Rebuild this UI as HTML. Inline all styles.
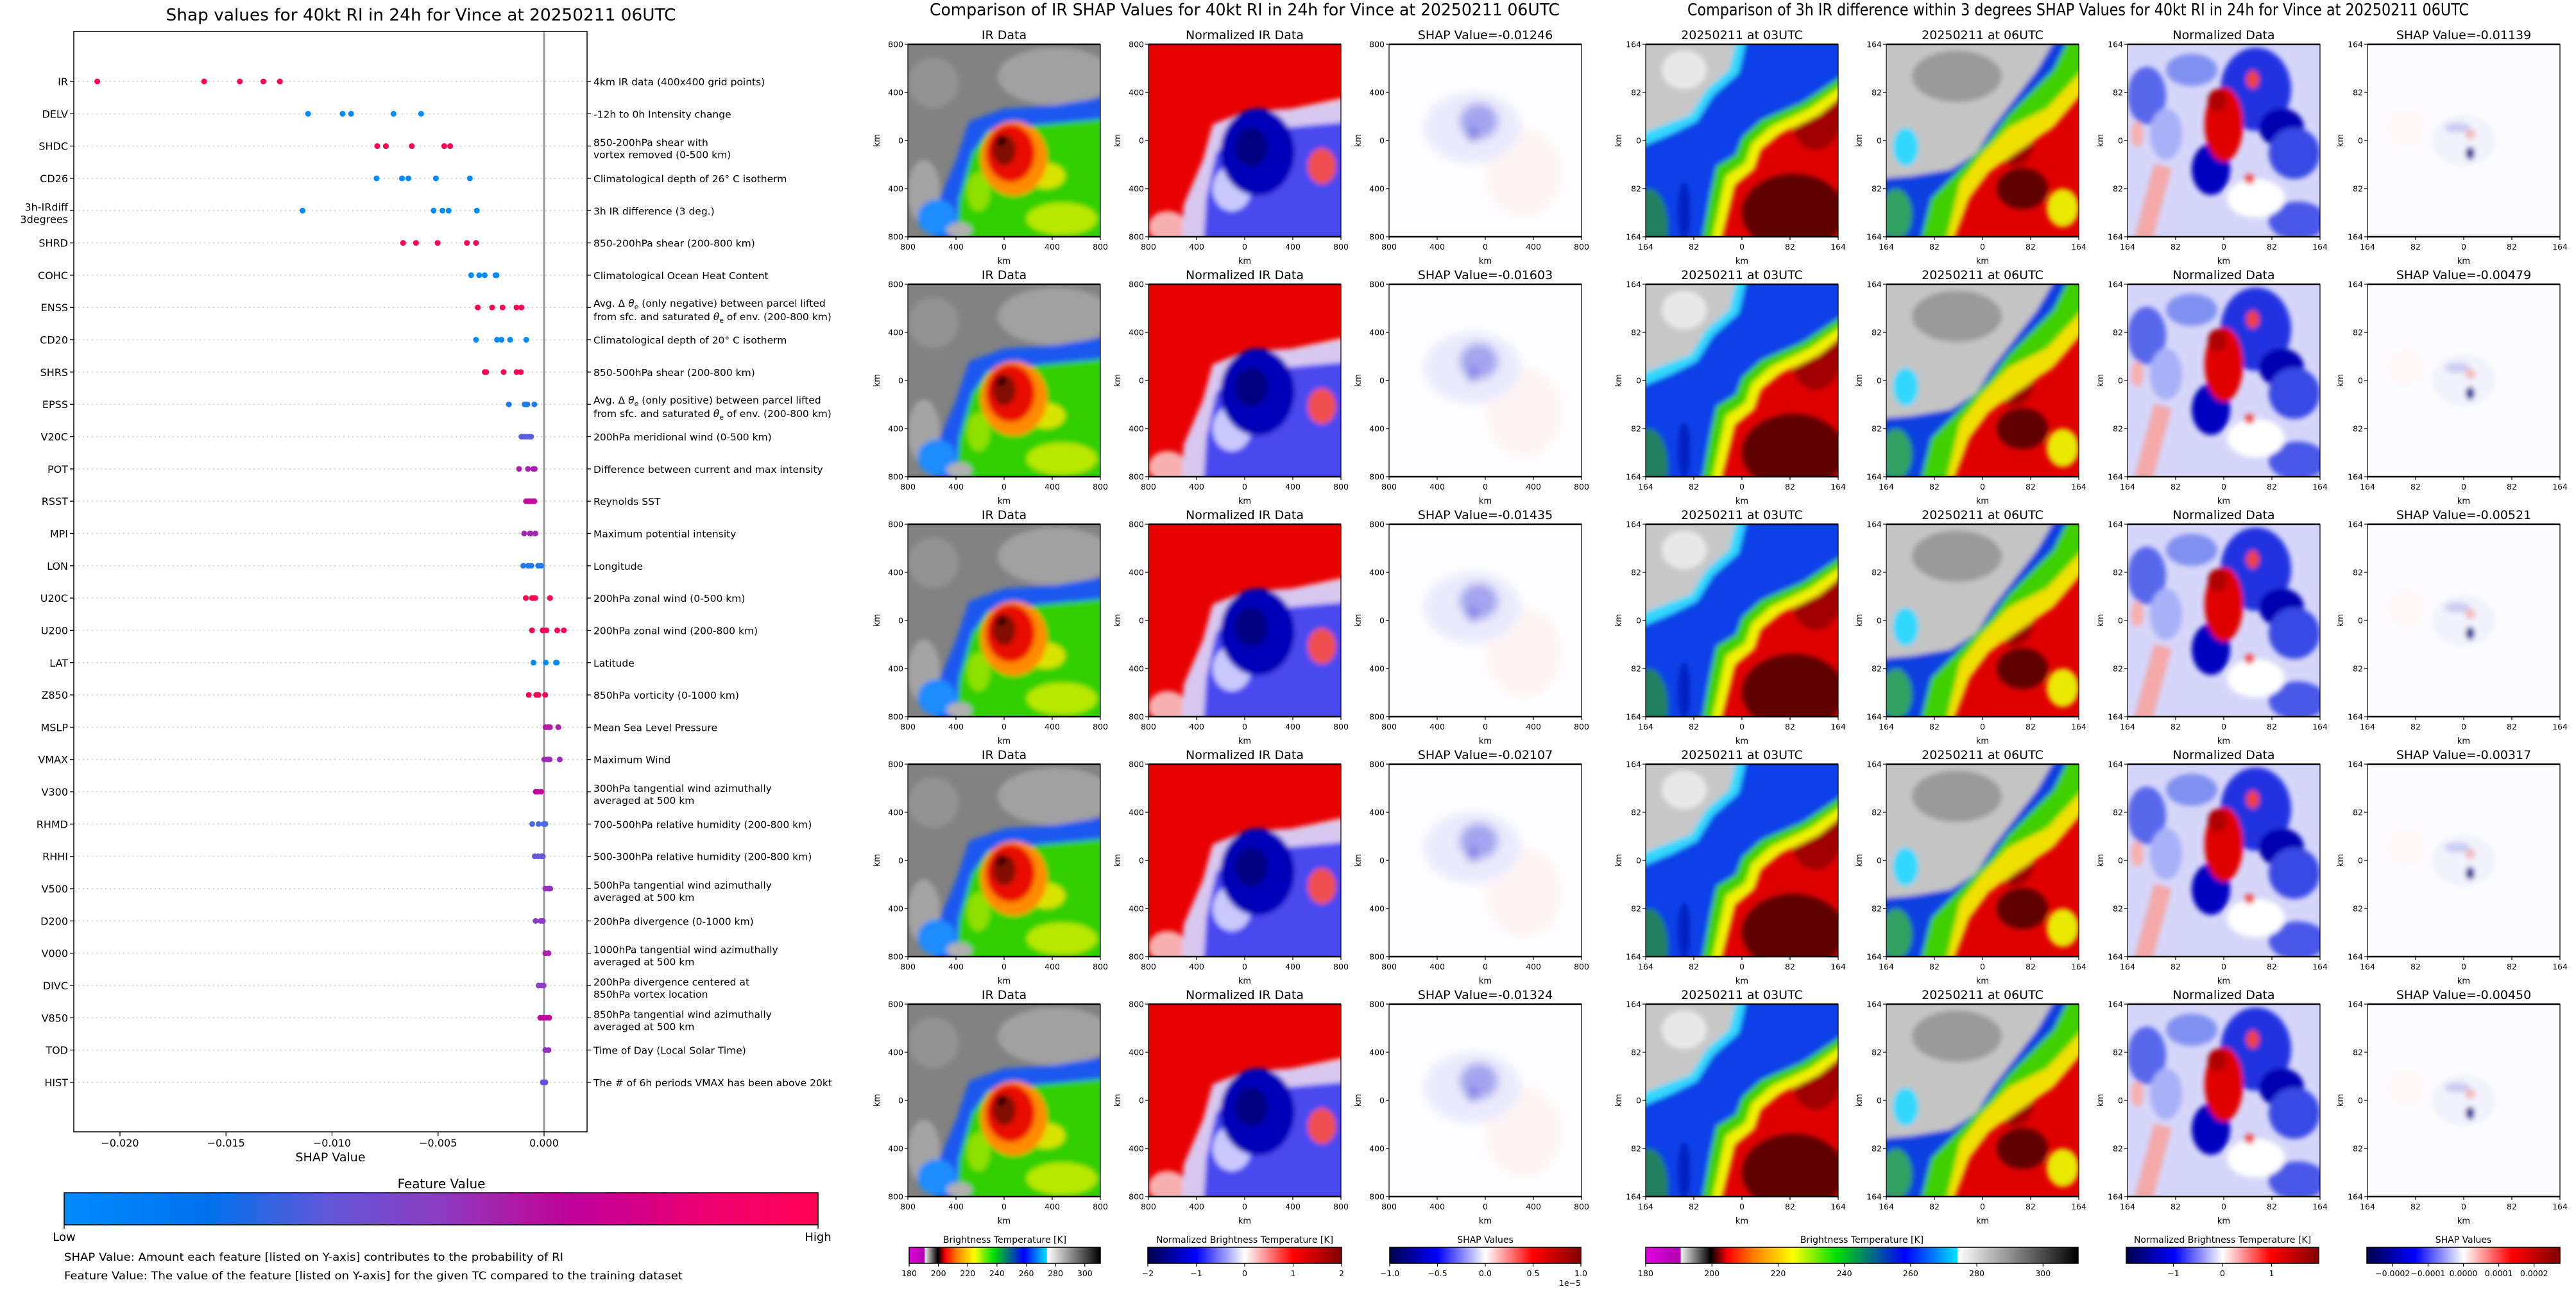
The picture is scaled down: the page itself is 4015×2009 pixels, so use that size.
<!DOCTYPE html>
<html><head><meta charset="utf-8"><style>
html,body{margin:0;padding:0;background:#fff;}
svg{display:block;font-family:"DejaVu Sans","Liberation Sans",sans-serif;}
</style></head><body>
<svg id="root" xmlns="http://www.w3.org/2000/svg" width="4015" height="2009" viewBox="0 0 4015 2009">
<defs>
<filter id="bl" x="-20%" y="-20%" width="140%" height="140%"><feGaussianBlur stdDeviation="4" edgeMode="duplicate"/></filter>
<filter id="bl2" x="-20%" y="-20%" width="140%" height="140%"><feGaussianBlur stdDeviation="7"/></filter>
<linearGradient id="gShap" x1="0" x2="1" y1="0" y2="0">
<stop offset="0" stop-color="#008bfb"/><stop offset="0.19" stop-color="#0071ea"/><stop offset="0.35" stop-color="#6257d8"/><stop offset="0.5" stop-color="#8c3cc0"/><stop offset="0.62" stop-color="#b4129e"/><stop offset="0.68" stop-color="#c0009a"/><stop offset="0.85" stop-color="#ec0070"/><stop offset="1" stop-color="#ff0052"/>
</linearGradient>
<linearGradient id="gIR" x1="0" x2="1" y1="0" y2="0">
<stop offset="0" stop-color="#e000e0"/><stop offset="0.08" stop-color="#b000b0"/><stop offset="0.082" stop-color="#f0f0f0"/><stop offset="0.15" stop-color="#000"/><stop offset="0.19" stop-color="#ff0000"/><stop offset="0.25" stop-color="#ff8000"/><stop offset="0.34" stop-color="#ffff00"/><stop offset="0.44" stop-color="#00e000"/><stop offset="0.6" stop-color="#0000ff"/><stop offset="0.72" stop-color="#00e0ff"/><stop offset="0.722" stop-color="#ffffff"/><stop offset="1" stop-color="#000"/>
</linearGradient>
<linearGradient id="gSeis" x1="0" x2="1" y1="0" y2="0">
<stop offset="0" stop-color="#00004c"/><stop offset="0.25" stop-color="#0000ff"/><stop offset="0.5" stop-color="#ffffff"/><stop offset="0.75" stop-color="#ff0000"/><stop offset="1" stop-color="#800000"/>
</linearGradient>

<symbol id="pIR" viewBox="0 0 300 300">
<rect width="300" height="300" fill="#828282"/>
<g filter="url(#bl)">
<ellipse cx="230" cy="50" rx="90" ry="45" fill="#a0a0a0"/>
<ellipse cx="40" cy="60" rx="40" ry="40" fill="#929292"/>
<path d="M130,120 L320,80 L320,100 L150,145Z" fill="#d4d4d4"/>
<ellipse cx="25" cy="230" rx="25" ry="50" fill="#a4a4a4"/>
<path d="M320,80 L320,320 L40,320 L45,250 L75,180 L95,120 L150,100 L230,95Z" fill="#1a58f0"/>
<path d="M320,115 L320,320 L75,320 L80,240 L100,170 L125,135 L210,125Z" fill="#30d000"/>
<ellipse cx="240" cy="272" rx="55" ry="25" fill="#b8e800"/>
<ellipse cx="110" cy="230" rx="18" ry="30" fill="#90e000"/>
<ellipse cx="215" cy="205" rx="30" ry="20" fill="#d8e400"/>
<ellipse cx="165" cy="178" rx="52" ry="58" fill="#ff8c00"/>
<ellipse cx="160" cy="170" rx="38" ry="45" fill="#e81000"/>
<ellipse cx="150" cy="165" rx="18" ry="24" fill="#801000"/>
<ellipse cx="145" cy="150" rx="8" ry="8" fill="#300000"/>
<ellipse cx="45" cy="270" rx="30" ry="28" fill="#1a8cff"/>
<ellipse cx="80" cy="290" rx="20" ry="12" fill="#b0b0b0"/>
</g>
</symbol>

<symbol id="pNorm" viewBox="0 0 300 300">
<rect width="300" height="300" fill="#e80000"/>
<g filter="url(#bl)">
<path d="M130,120 L320,80 L320,100 L150,145Z" fill="#f8d0d0"/>
<ellipse cx="30" cy="285" rx="30" ry="25" fill="#f6b0b0"/>
<path d="M320,85 L320,320 L50,320 L55,250 L85,180 L100,125 L150,105 L230,100Z" fill="#d8c8f0"/>
<path d="M320,120 L320,320 L85,320 L90,240 L105,170 L130,140 L210,130Z" fill="#4848f0"/>
<ellipse cx="270" cy="190" rx="22" ry="28" fill="#f05050"/>
<ellipse cx="130" cy="225" rx="30" ry="35" fill="#c8c8ff"/>
<ellipse cx="170" cy="168" rx="58" ry="68" fill="#0000b8"/>
<ellipse cx="160" cy="160" rx="25" ry="30" fill="#000080"/>
</g>
</symbol>

<symbol id="pShap" viewBox="0 0 300 300">
<rect width="300" height="300" fill="#fdfdff"/>
<g filter="url(#bl2)">
<ellipse cx="210" cy="200" rx="60" ry="70" fill="#fff4f4"/>
<ellipse cx="130" cy="130" rx="75" ry="55" fill="#eaeafc"/>
<ellipse cx="140" cy="120" rx="30" ry="28" fill="#a4a4f0"/>
<ellipse cx="130" cy="140" rx="8" ry="12" fill="#7878e2"/>
</g>
</symbol>

<symbol id="p03" viewBox="0 0 300 300">
<rect width="300" height="300" fill="#e00000"/>
<g filter="url(#bl)">
<ellipse cx="230" cy="262" rx="80" ry="60" fill="#600000"/>
<ellipse cx="265" cy="110" rx="40" ry="55" fill="#a00000"/>
<path d="M-20,-20 L320,-20 L320,70 L270,110 L210,140 L180,165 L170,195 L140,220 L130,260 L115,320 L-20,320Z" fill="#f0f000"/>
<path d="M-20,-20 L320,-20 L320,55 L255,100 L195,128 L165,155 L155,185 L125,205 L115,250 L100,320 L-20,320Z" fill="#40d000"/>
<path d="M-20,-20 L320,-20 L320,40 L245,90 L180,118 L150,145 L140,172 L110,190 L100,235 L85,320 L-20,320Z" fill="#1040e8"/>
<path d="M-20,-20 L160,-20 L145,45 L105,80 L80,120 L40,140 L-20,165Z" fill="#30d8ff"/>
<path d="M-20,-20 L145,-20 L130,40 L95,70 L70,110 L30,125 L-20,145Z" fill="#c8c8c8"/>
<ellipse cx="60" cy="40" rx="35" ry="30" fill="#e8e8e8"/>
<ellipse cx="5" cy="285" rx="30" ry="60" fill="#208060"/>
<ellipse cx="60" cy="260" rx="10" ry="45" fill="#0020c0"/>
</g>
</symbol>

<symbol id="p06" viewBox="0 0 300 300">
<rect width="300" height="300" fill="#e00000"/>
<g filter="url(#bl)">
<ellipse cx="212" cy="225" rx="40" ry="32" fill="#600000"/>
<ellipse cx="200" cy="150" rx="30" ry="40" fill="#a00000"/>
<ellipse cx="275" cy="255" rx="25" ry="30" fill="#e8e800"/>
<path d="M-20,-20 L320,-20 L320,60 L260,130 L200,170 L160,200 L130,240 L100,320 L-20,320Z" fill="#f0e000"/>
<path d="M-20,-20 L320,-20 L320,25 L250,100 L190,130 L150,170 L115,215 L90,320 L-20,320Z" fill="#40d000"/>
<path d="M-20,-20 L290,-20 L260,40 L220,80 L190,110 L160,150 L130,180 L110,200 L70,240 L50,320 L-20,320Z" fill="#1040e0"/>
<path d="M-20,-20 L270,-20 L235,40 L200,85 L165,130 L140,170 L100,195 L40,205 L-20,210Z" fill="#c4c4c4"/>
<ellipse cx="110" cy="50" rx="70" ry="40" fill="#9a9a9a"/>
<ellipse cx="30" cy="160" rx="20" ry="30" fill="#30d8ff"/>
<ellipse cx="15" cy="265" rx="25" ry="40" fill="#30a060"/>
</g>
</symbol>

<symbol id="pNormD" viewBox="0 0 300 300">
<rect width="300" height="300" fill="#d6d6fa"/>
<g filter="url(#bl)">
<ellipse cx="200" cy="70" rx="55" ry="65" fill="#2030e0"/>
<ellipse cx="240" cy="130" rx="35" ry="30" fill="#0000b0"/>
<ellipse cx="260" cy="170" rx="40" ry="40" fill="#3848e4"/>
<ellipse cx="130" cy="195" rx="30" ry="40" fill="#0000c0"/>
<ellipse cx="265" cy="275" rx="45" ry="30" fill="#4858e8"/>
<ellipse cx="30" cy="80" rx="30" ry="45" fill="#5868ea"/>
<ellipse cx="100" cy="40" rx="40" ry="25" fill="#8090f0"/>
<ellipse cx="200" cy="240" rx="45" ry="30" fill="#ffffff"/>
<ellipse cx="60" cy="140" rx="25" ry="40" fill="#a8b0f8"/>
<path d="M55,190 L20,320" stroke="#f4a8a8" stroke-width="28" fill="none"/>
<ellipse cx="150" cy="125" rx="30" ry="58" fill="#e00000"/>
<ellipse cx="140" cy="88" rx="15" ry="18" fill="#b00000"/>
<ellipse cx="195" cy="55" rx="10" ry="14" fill="#f04040"/>
<ellipse cx="190" cy="210" rx="8" ry="8" fill="#f05050"/>
<ellipse cx="15" cy="140" rx="10" ry="20" fill="#f8b0b0"/>
</g>
</symbol>

<symbol id="pShapD" viewBox="0 0 300 300">
<rect width="300" height="300" fill="#fcfcff"/>
<g filter="url(#bl)">
<ellipse cx="150" cy="150" rx="50" ry="40" fill="#f2f2fd"/>
<ellipse cx="140" cy="130" rx="20" ry="8" fill="#ccccf2"/>
<ellipse cx="160" cy="140" rx="8" ry="8" fill="#f2bcbc"/>
<ellipse cx="160" cy="170" rx="7" ry="10" fill="#303098"/>
<ellipse cx="60" cy="130" rx="30" ry="30" fill="#fff8f8"/>
</g>
</symbol>
</defs>
<rect width="4015" height="2009" fill="#fff"/>
<g id="left"></g>
<g id="panels"></g>
</svg>
<script>
// ---------------- SHAP summary chart data ----------------
const features = ["IR","DELV","SHDC","CD26","3h-IRdiff|3degrees","SHRD","COHC","ENSS","CD20","SHRS","EPSS","V20C","POT","RSST","MPI","LON","U20C","U200","LAT","Z850","MSLP","VMAX","V300","RHMD","RHHI","V500","D200","V000","DIVC","V850","TOD","HIST"];
const descriptions = ["4km IR data (400x400 grid points)","-12h to 0h Intensity change","850-200hPa shear with|vortex removed (0-500 km)","Climatological depth of 26° C isotherm","3h IR difference (3 deg.)","850-200hPa shear (200-800 km)","Climatological Ocean Heat Content","THETA_NEG","Climatological depth of 20° C isotherm","850-500hPa shear (200-800 km)","THETA_POS","200hPa meridional wind (0-500 km)","Difference between current and max intensity","Reynolds SST","Maximum potential intensity","Longitude","200hPa zonal wind (0-500 km)","200hPa zonal wind (200-800 km)","Latitude","850hPa vorticity (0-1000 km)","Mean Sea Level Pressure","Maximum Wind","300hPa tangential wind azimuthally|averaged at 500 km","700-500hPa relative humidity (200-800 km)","500-300hPa relative humidity (200-800 km)","500hPa tangential wind azimuthally|averaged at 500 km","200hPa divergence (0-1000 km)","1000hPa tangential wind azimuthally|averaged at 500 km","200hPa divergence centered at|850hPa vortex location","850hPa tangential wind azimuthally|averaged at 500 km","Time of Day (Local Solar Time)","The # of 6h periods VMAX has been above 20kt"];
const shapValues = [
 [-0.02107,-0.01603,-0.01435,-0.01324,-0.01246],
 [-0.01113,-0.0095,-0.0091,-0.0071,-0.0058],
 [-0.00787,-0.00746,-0.00624,-0.00471,-0.00443],
 [-0.0079,-0.0067,-0.0064,-0.0051,-0.0035],
 [-0.01139,-0.00521,-0.00479,-0.0045,-0.00317],
 [-0.00665,-0.00604,-0.00502,-0.00364,-0.00321],
 [-0.00344,-0.00306,-0.0028,-0.00229,-0.00224],
 [-0.00313,-0.00245,-0.00196,-0.0013,-0.00107],
 [-0.00321,-0.00222,-0.00201,-0.0016,-0.00084],
 [-0.0028,-0.00273,-0.00191,-0.0013,-0.0011],
 [-0.00166,-0.00092,-0.00084,-0.00079,-0.00046],
 [-0.00107,-0.00094,-0.00082,-0.00069,-0.00061],
 [-0.00118,-0.00076,-0.00051,-0.00044],
 [-0.00085,-0.00075,-0.00065,-0.00054,-0.00046],
 [-0.00094,-0.00067,-0.00064,-0.00041],
 [-0.00098,-0.00075,-0.0006,-0.00028,-0.00014],
 [-0.00086,-0.00057,-0.00049,-0.00042,0.00028],
 [-0.00057,-0.00007,0.00011,0.00062,0.00093],
 [-0.0005,0.00008,0.00056,0.0006],
 [-0.00072,-0.00037,-0.00027,0.00005],
 [0.00007,0.0002,0.00028,0.00067],
 [0.00001,0.00016,0.00026,0.00074],
 [-0.00039,-0.00029,-0.00014],
 [-0.00056,-0.00026,-0.00002,0.00006],
 [-0.00044,-0.00029,-0.00014,-0.00006],
 [0.00006,0.00018,0.00029],
 [-0.0004,-0.00016,-0.00006],
 [0.00006,0.00021],
 [-0.00026,-0.00014,-0.00002],
 [-0.00018,-0.00004,0.00011,0.00024],
 [0.00006,0.00021],
 [-0.00006,0.00006]
];
const rowColors = ["#ff0052","#008bfb","#ff0052","#008bfb","#008bfb","#ff0052","#008bfb","#ff0052","#008bfb","#ff0052","#1e7cf0","#5c5ee0","#a822b0","#c0089e","#a028b0","#1e78f0","#ff0052","#ff0052","#008bfb","#ff0052","#b01ca8","#9a2cb8","#c0089e","#4a6ae8","#6a5ad8","#9a30c0","#8a3ac8","#b020b0","#8a40c8","#c0089e","#9030c0","#6050e0"];
const xTicks = [-0.020,-0.015,-0.010,-0.005,0.000];
const xTickLabels = ["\u22120.020","\u22120.015","\u22120.010","\u22120.005","0.000"];

// ---------------- image panel data ----------------
const irShapTitles = ["-0.01246","-0.01603","-0.01435","-0.02107","-0.01324"];
const diffShapTitles = ["-0.01139","-0.00479","-0.00521","-0.00317","-0.00450"];
const irCbTicks = [180,200,220,240,260,280,300];
const normCbTicks = [-2,-1,0,1,2];
const shapCbTicks = [-1.0,-0.5,0.0,0.5,1.0];
const normDCbTicks = [-1,0,1];
const shapDCbTicks = [-0.0002,-0.0001,0.0000,0.0001,0.0002];
const shapDCbLabels = ["\u22120.0002","\u22120.0001","0.0000","0.0001","0.0002"];

const NS = "http://www.w3.org/2000/svg";
function mk(tag, attrs, parent, txt){
  const e = document.createElementNS(NS, tag);
  for (const k in attrs) e.setAttribute(k, attrs[k]);
  if (txt !== undefined) e.textContent = txt;
  parent.appendChild(e);
  return e;
}

// ---- Left chart ----
const L = document.getElementById('left');
const AX_L = 115, AX_R = 915, AX_T = 49, AX_B = 1764;
const xs = v => 848 + v * 33050;
const ys = i => 127 + i * 50.32;

const ttl = mk('text',{x:656,y:32,'text-anchor':'middle','font-size':26,textLength:795,lengthAdjust:'spacingAndGlyphs'},L,'Shap values for 40kt RI in 24h for Vince at 20250211 06UTC');



features.forEach((f,i)=>{
  const y = ys(i);
  const g = mk('line',{x1:AX_L,x2:AX_R,y1:y,y2:y,stroke:'#cccccc','stroke-width':1.5,'stroke-dasharray':'2,5'},L);
  
  
});
const zl = mk('line',{x1:xs(0),x2:xs(0),y1:AX_T,y2:AX_B,stroke:'#999','stroke-width':3},L);



const frame = mk('rect',{x:AX_L,y:AX_T,width:AX_R-AX_L,height:AX_B-AX_T,fill:'none',stroke:'#000','stroke-width':1.5},L);



features.forEach((f,i)=>{
  const y = ys(i);
  const tl = mk('line',{x1:AX_L-6,x2:AX_L,y1:y,y2:y,stroke:'#000','stroke-width':1.3},L);
  
  
  const tr = mk('line',{x1:AX_R,x2:AX_R+6,y1:y,y2:y,stroke:'#000','stroke-width':1.3},L);
  
  
  const parts = f.split('|');
  const lab = mk('text',{x:AX_L-9,y:parts.length>1?y:y+6,'text-anchor':'end','font-size':16},L);
  
  
  parts.forEach((p,k)=>{ mk('tspan',{x:AX_L-9,dy:k?19:0},lab,p); });
  const d = descriptions[i];
  const dl = mk('text',{x:AX_R+10,y:y,'font-size':15.5},L);
  
  
  if (d.startsWith('THETA')) {
    const word = d==='THETA_NEG' ? 'negative' : 'positive';
    mk('tspan',{x:AX_R+10,y:y-1},dl,'Avg. \u0394 ');
    mk('tspan',{'font-style':'italic'},dl,'\u03b8');
    mk('tspan',{'font-size':11,dy:4},dl,'e');
    mk('tspan',{dy:-4},dl,' (only '+word+') between parcel lifted');
    mk('tspan',{x:AX_R+10,y:y+20},dl,'from sfc. and saturated ');
    mk('tspan',{'font-style':'italic'},dl,'\u03b8');
    mk('tspan',{'font-size':11,dy:4},dl,'e');
    mk('tspan',{dy:-4},dl,' of env. (200-800 km)');
  } else {
    const lines = d.split('|');
    if (lines.length>1){
      mk('tspan',{x:AX_R+10,y:y},dl,lines[0]);
      mk('tspan',{x:AX_R+10,y:y+19},dl,lines[1]);
    } else {
      mk('tspan',{x:AX_R+10,y:y+6},dl,lines[0]);
    }
  }
  shapValues[i].forEach((v,k)=>{
    const c = mk('ellipse',{cx:xs(v),cy:y,rx:4.5,ry:4.5,fill:rowColors[i]},L);
    
    
  });
});
xTicks.forEach((v,k)=>{
  const x = xs(v);
  const t = mk('line',{x1:x,x2:x,y1:AX_B,y2:AX_B+7,stroke:'#000','stroke-width':1.3},L);
  
  
  const tt = mk('text',{x:x,y:1787,'text-anchor':'middle','font-size':16},L,xTickLabels[k]);
  
  
});
const xl = mk('text',{x:515,y:1810,'text-anchor':'middle','font-size':19},L,'SHAP Value');


const fvt = mk('text',{x:688,y:1852,'text-anchor':'middle','font-size':20},L,'Feature Value');


const cbr = mk('rect',{x:100,y:1859,width:1175,height:50,fill:'url(#gShap)',stroke:'#000','stroke-width':1.5},L);


[[100,'Low'],[1275,'High']].forEach(a=>{
  const tk = mk('line',{x1:a[0],x2:a[0],y1:1909,y2:1915,stroke:'#000','stroke-width':1.3},L);
  
  
  const tx = mk('text',{x:a[0],y:1934,'text-anchor':'middle','font-size':18},L,a[1]);
  
  
});
const n1 = mk('text',{x:100,y:1965,'font-size':17,textLength:778,lengthAdjust:'spacingAndGlyphs'},L,'SHAP Value: Amount each feature [listed on Y-axis] contributes to the probability of RI');


const n2 = mk('text',{x:100,y:1994,'font-size':17,textLength:964,lengthAdjust:'spacingAndGlyphs'},L,'Feature Value: The value of the feature [listed on Y-axis] for the given TC compared to the training dataset');



// ---- Image panels ----
const P = document.getElementById('panels');
const colX = [1415,1790,2165,2565,2940,3316,3690];
const rowY = [69,443,817,1191,1565];
const PS = 300;
const syms = ['#pIR','#pNorm','#pShap','#p03','#p06','#pNormD','#pShapD'];
const t1 = mk('text',{x:1940,y:24,'text-anchor':'middle','font-size':26,textLength:982,lengthAdjust:'spacingAndGlyphs'},P,'Comparison of IR SHAP Values for 40kt RI in 24h for Vince at 20250211 06UTC');


const t2 = mk('text',{x:3239,y:24,'text-anchor':'middle','font-size':26,textLength:1218,lengthAdjust:'spacingAndGlyphs'},P,'Comparison of 3h IR difference within 3 degrees SHAP Values for 40kt RI in 24h for Vince at 20250211 06UTC');



rowY.forEach((ty,r)=>{
  colX.forEach((lx,c)=>{
    const titles = ['IR Data','Normalized IR Data','SHAP Value='+irShapTitles[r],'20250211 at 03UTC','20250211 at 06UTC','Normalized Data','SHAP Value='+diffShapTitles[r]];
    const u = mk('use',{href:syms[c],x:lx,y:ty,width:PS,height:PS},P);
    
    
    const fr = mk('rect',{x:lx,y:ty,width:PS,height:PS,fill:'none',stroke:'#000','stroke-width':1.2},P);
    
    
    const tl = mk('line',{x1:lx,x2:lx+PS,y1:ty,y2:ty,stroke:'#000','stroke-width':2.5},P);
    
    
    const bl = mk('line',{x1:lx,x2:lx+PS,y1:ty+PS,y2:ty+PS,stroke:'#000','stroke-width':2.5},P);
    
    
    const pt = mk('text',{x:lx+PS/2,y:ty-8,'text-anchor':'middle','font-size':19},P,titles[c]);
    
    
    const labs = c<3 ? ['800','400','0','400','800'] : ['164','82','0','82','164'];
    labs.forEach((s,k)=>{
      const yy = ty + k*PS/4;
      const xx = lx + k*PS/4;
      const yt = mk('line',{x1:lx-5,x2:lx,y1:yy,y2:yy,stroke:'#000','stroke-width':1.2},P);
      
      
      const ytl = mk('text',{x:lx-7,y:yy+4.5,'text-anchor':'end','font-size':12.5},P,s);
      
      
      const xt = mk('line',{x1:xx,x2:xx,y1:ty+PS,y2:ty+PS+5,stroke:'#000','stroke-width':1.2},P);
      
      
      const xtl = mk('text',{x:xx,y:ty+PS+20,'text-anchor':'middle','font-size':12.5},P,s);
      
      
    });
    const xk = mk('text',{x:lx+PS/2,y:ty+PS+42,'text-anchor':'middle','font-size':13},P,'km');
    
    
    const ykx = lx - (c<3 ? 44 : 38);
    const yk = mk('text',{x:ykx,y:ty+PS/2,'text-anchor':'middle','font-size':13,transform:'rotate(-90 '+ykx+' '+(ty+PS/2)+')'},P,'km');
    
    
  });
});

// ---- Panel colorbars ----
const CB_Y = 1944, CB_H = 25;
function colorbar(x, w, grad, title, min, max, ticks, labels, name){
  const tt = mk('text',{x:x+w/2,y:CB_Y-7,'text-anchor':'middle','font-size':14},P,title);
  
  
  const r = mk('rect',{x:x,y:CB_Y,width:w,height:CB_H,fill:grad,stroke:'#000','stroke-width':1.5},P);
  
  
  ticks.forEach((v,k)=>{
    const px = x + (v-min)/(max-min)*w;
    const tk = mk('line',{x1:px,x2:px,y1:CB_Y+CB_H,y2:CB_Y+CB_H+5,stroke:'#000','stroke-width':1.2},P);
    
    
    const tl = mk('text',{x:px,y:CB_Y+CB_H+20,'text-anchor':'middle','font-size':12.5},P,labels[k]);
    
    
  });
}
const fmt = a => a.map(v => (v<0?'\u2212':'') + String(Math.abs(v)));
colorbar(1417,298,'url(#gIR)','Brightness Temperature [K]',180,310.6,irCbTicks,irCbTicks.map(String),'ir-colorbar');
colorbar(1789,302,'url(#gSeis)','Normalized Brightness Temperature [K]',-2,2,normCbTicks,fmt(normCbTicks),'norm-ir-colorbar');
colorbar(2166,298,'url(#gSeis)','SHAP Values',-1,1,shapCbTicks,shapCbTicks.map(v=>(v<0?'\u2212':'')+Math.abs(v).toFixed(1)),'ir-shap-colorbar');
const ex = mk('text',{x:2464,y:2004,'text-anchor':'end','font-size':12.5},P,'1e\u22125');


colorbar(2565,674,'url(#gIR)','Brightness Temperature [K]',180,310.6,irCbTicks,irCbTicks.map(String),'ir-diff-colorbar');
colorbar(3314,300,'url(#gSeis)','Normalized Brightness Temperature [K]',-1.96,1.96,normDCbTicks,fmt(normDCbTicks),'norm-diff-colorbar');
colorbar(3689,301,'url(#gSeis)','SHAP Values',-0.000273,0.000273,shapDCbTicks,shapDCbLabels,'diff-shap-colorbar');
</script>
</body></html>
